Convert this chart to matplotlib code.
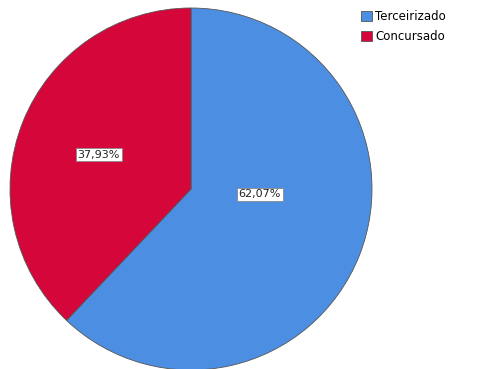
import matplotlib.pyplot as plt

labels = ['Terceirizado', 'Concursado']
values = [62.07, 37.93]
colors = ['#4C8FE2', '#D5063A']
pct_labels = ['62,07%', '37,93%']

fig = plt.figure(figsize=(4.86, 3.69), dpi=100)
ax = fig.add_axes([10 / 486, -1 / 369, 362 / 486, 362 / 369])

wedges, _ = ax.pie(values, colors=colors, startangle=90, counterclock=False,
                   wedgeprops=dict(edgecolor='#555555', linewidth=0.6))
ax.set_xlim(-1, 1)
ax.set_ylim(-1, 1)
ax.set_aspect('equal')

# label positions (radius units), roughly where SPSS put them
label_pos = [(0.38, -0.03), (-0.51, 0.19)]
for (x, y), t in zip(label_pos, pct_labels):
    ax.text(x, y, t, ha='center', va='center', fontsize=8, color='#222222',
            bbox=dict(boxstyle='square,pad=0.15', facecolor='white',
                      edgecolor='#888888', linewidth=0.6))

ax.legend(wedges, labels, loc='upper left', bbox_to_anchor=(361 / 486, 1 - 10 / 369),
          bbox_transform=fig.transFigure, frameon=False, fontsize=8.5,
          handlelength=0.9, handleheight=1.0, handletextpad=0.3,
          labelspacing=0.6, borderaxespad=0, borderpad=0)

fig.savefig('out.png', dpi=100)
